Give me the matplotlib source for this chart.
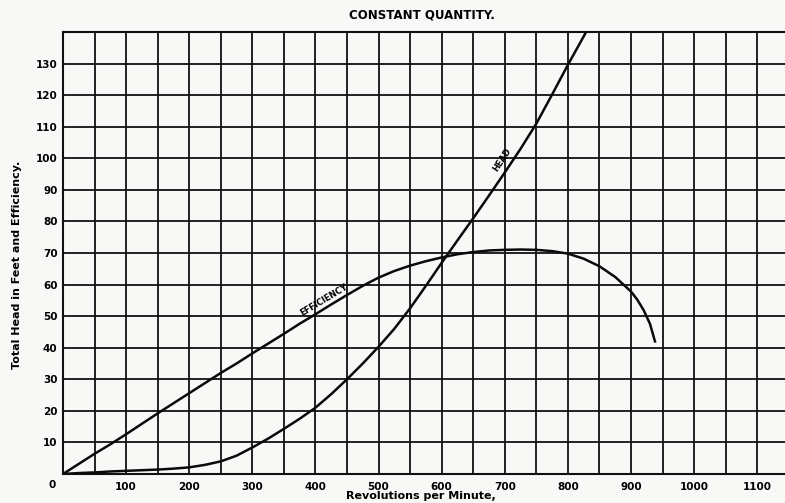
import numpy as np
import matplotlib.pyplot as plt

# pump test at constant quantity: head (feet) and efficiency (%) vs speed
rpm_head = [0, 25, 50, 75, 100, 125, 150, 175, 200, 225, 250, 275, 300, 325,
            350, 375, 400, 425, 450, 475, 500, 525, 550, 575, 600, 625, 650,
            675, 700, 725, 750, 775, 800, 825, 835]
head = [0, 0.3, 0.5, 0.8, 1.0, 1.2, 1.4, 1.7, 2.1, 2.9, 4.0, 5.8, 8.4, 11.2,
        14.3, 17.5, 21, 25.3, 30, 35, 40.3, 46, 52.5, 59.6, 66.9, 74, 81,
        88.2, 95.5, 103, 111, 120.2, 129.6, 138.6, 142.3]

rpm_eff = [0, 25, 50, 75, 100, 125, 150, 175, 200, 225, 250, 275, 300, 325,
           350, 375, 400, 425, 450, 475, 500, 525, 550, 575, 600, 625, 650,
           675, 700, 725, 750, 775, 800, 825, 850, 875, 900, 910, 920, 930,
           938]
eff = [0, 3.2, 6.4, 9.4, 12.6, 15.9, 19.2, 22.4, 25.6, 28.8, 32, 35, 38.2,
       41.3, 44.4, 47.6, 50.6, 53.7, 56.7, 59.6, 62.2, 64.3, 66, 67.4, 68.6,
       69.6, 70.3, 70.8, 71.0, 71.1, 71.0, 70.6, 69.8, 68.2, 65.8, 62.4,
       57.8, 55.2, 51.9, 47.6, 42.0]

x_ticks = [100, 200, 300, 400, 500, 600, 700, 800, 900, 1000, 1100]
y_ticks = [10, 20, 30, 40, 50, 60, 70, 80, 90, 100, 110, 120, 130]

plt.rcParams['font.family'] = ['DejaVu Sans']
bg = '#f8f8f6'
ink = '#111111'

fig = plt.figure(figsize=(7.85, 5.03), dpi=100, facecolor=bg)
ax = fig.add_axes([63/785, 29/503, 722/785, 442/503], facecolor=bg)
ax.set_xlim(0, 1144)
ax.set_ylim(0, 140)

# ruled paper: lines every 50 rpm and every 10 units
for xv in np.arange(50, 1144, 50):
    ax.axvline(xv, color=ink, lw=1.3, zorder=1)
for yv in np.arange(10, 140, 10):
    ax.axhline(yv, color=ink, lw=1.3, zorder=1)

for s in ['left', 'bottom', 'top']:
    ax.spines[s].set_linewidth(1.5)
    ax.spines[s].set_color(ink)
ax.spines['right'].set_visible(False)

ax.plot(rpm_head, head, color='#0a0a0a', lw=1.8, zorder=3,
        solid_joinstyle='round')
ax.plot(rpm_eff, eff, color='#0a0a0a', lw=1.8, zorder=3,
        solid_joinstyle='round')

ax.text(696, 99.5, 'HEAD', rotation=57, fontsize=6, fontweight='bold',
        ha='center', va='center', zorder=4)
ax.text(414, 55.2, 'EFFICIENCY', rotation=31, fontsize=6, fontweight='bold',
        ha='center', va='center', zorder=4)

ax.set_xticks(x_ticks)
ax.set_xticklabels([str(v) for v in x_ticks], fontsize=7.5, fontweight='bold')
ax.set_yticks(y_ticks)
ax.set_yticklabels([str(v) for v in y_ticks], fontsize=7.5, fontweight='bold')
ax.tick_params(length=0, pad=4)
ax.tick_params(axis='x', pad=6)

fig.text(52/785, 1 - 485/503, '0', fontsize=7.5, fontweight='bold',
         ha='center', va='center')
fig.text(422/785, 1 - 15/503, 'CONSTANT QUANTITY.', fontsize=8.5,
         fontweight='bold', ha='center', va='center')
fig.text(421/785, 1 - 496/503, 'Revolutions per Minute,', fontsize=8,
         fontweight='bold', ha='center', va='center')
fig.text(17/785, 1 - 265/503, 'Total Head in Feet and Efficiency.', fontsize=8,
         fontweight='bold', ha='center', va='center', rotation=90)

fig.savefig('out.png', dpi=100, facecolor=bg)
